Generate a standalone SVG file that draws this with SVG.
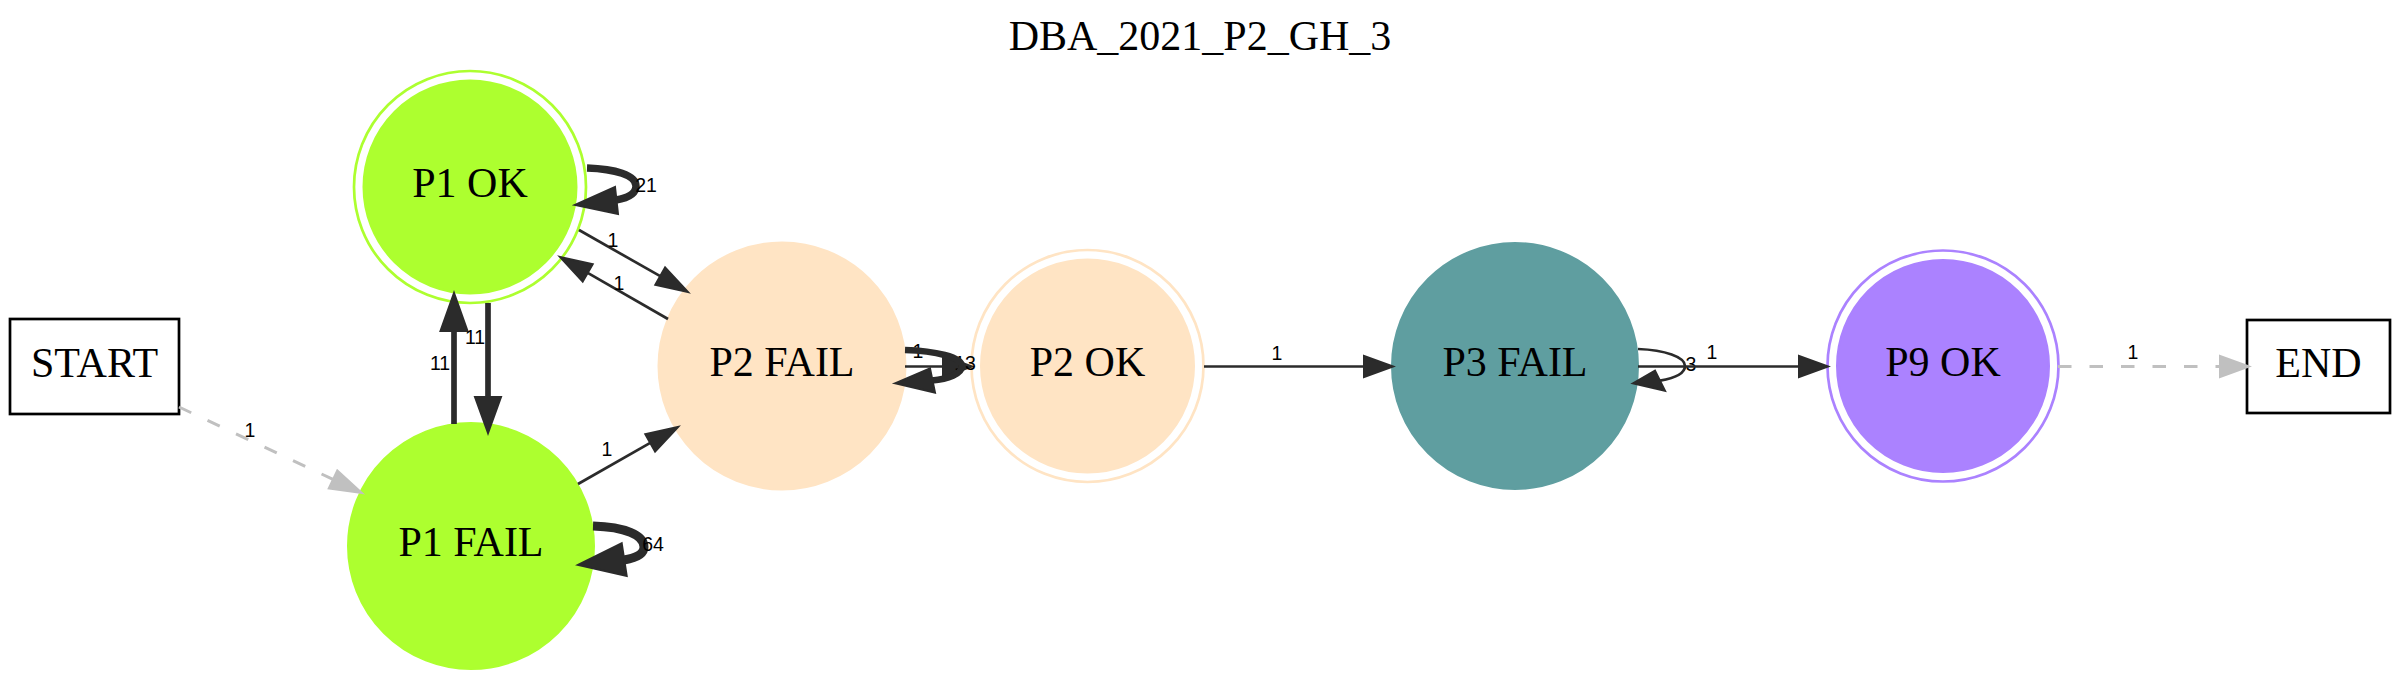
<svg xmlns="http://www.w3.org/2000/svg" width="2400" height="680" viewBox="0 0 2400 680">
<style>
.lbl{font-family:"Liberation Serif","Times New Roman",serif;font-size:42px;fill:#000;text-anchor:middle}
.elbl{font-family:"Liberation Sans",Arial,sans-serif;font-size:19.5px;fill:#000;text-anchor:middle}
.e{fill:none;stroke:#2b2b2b;stroke-width:2.7}
.ah{fill:#2b2b2b;stroke:#2b2b2b;stroke-width:2}
.ed{fill:none;stroke:#c0c0c0;stroke-width:3;stroke-dasharray:13.5,18}
.ahd{fill:#c0c0c0;stroke:#c0c0c0;stroke-width:2}
.box{fill:#fff;stroke:#000;stroke-width:2.7}
</style>
<rect width="2400" height="680" fill="#fff"/>
<text class="lbl" x="1200" y="50">DBA_2021_P2_GH_3</text>

<g id="START"><rect class="box" x="10" y="319" width="169" height="95"/><text class="lbl" x="94.5" y="376.5">START</text></g>
<g id="P1_OK"><circle cx="470" cy="187" r="116" fill="none" stroke="#adff2f" stroke-width="2.7"/><circle cx="470" cy="187" r="106.5" fill="#adff2f" stroke="#adff2f" stroke-width="2"/><text class="lbl" x="470" y="197">P1 OK</text></g>
<g id="P1_FAIL"><circle cx="471" cy="546" r="123" fill="#adff2f" stroke="#adff2f" stroke-width="2"/><text class="lbl" x="471" y="556">P1 FAIL</text></g>
<g id="P2_FAIL"><circle cx="782" cy="366" r="123.5" fill="#ffe4c4" stroke="#ffe4c4" stroke-width="2"/><text class="lbl" x="782" y="376">P2 FAIL</text></g>
<g id="P2_OK"><circle cx="1087.5" cy="366" r="116" fill="none" stroke="#ffe4c4" stroke-width="2.7"/><circle cx="1087.5" cy="366" r="106.5" fill="#ffe4c4" stroke="#ffe4c4" stroke-width="2"/><text class="lbl" x="1087.5" y="376">P2 OK</text></g>
<g id="P3_FAIL"><circle cx="1515" cy="366" r="123" fill="#5f9ea0" stroke="#5f9ea0" stroke-width="2"/><text class="lbl" x="1515" y="376">P3 FAIL</text></g>
<g id="P9_OK"><circle cx="1943" cy="366" r="115.5" fill="none" stroke="#ab82ff" stroke-width="2.7"/><circle cx="1943" cy="366" r="106" fill="#ab82ff" stroke="#ab82ff" stroke-width="2"/><text class="lbl" x="1943" y="376">P9 OK</text></g>
<g id="END"><rect class="box" x="2247" y="320" width="143" height="93"/><text class="lbl" x="2318.5" y="376.5">END</text></g>

<g id="connectors">
  <!-- START -> P1 FAIL -->
  <path class="ed" d="M179,407 L333,479.4"/>
  <polygon class="ahd" points="362,493 328.7,488.5 337.3,470.3"/>
  <text class="elbl" x="250" y="437">1</text>

  <!-- P1 OK -> P2 FAIL -->
  <path class="e" d="M579,230 L660.2,276.2"/>
  <polygon class="ah" points="688,292 655.3,284.9 665.1,267.5"/>
  <text class="elbl" x="613" y="247">1</text>

  <!-- P2 FAIL -> P1 OK -->
  <path class="e" d="M668,319 L587.7,272.9"/>
  <polygon class="ah" points="560,257 592.7,264.2 582.7,281.6"/>
  <text class="elbl" x="619" y="290">1</text>

  <!-- P1 FAIL -> P2 FAIL -->
  <path class="e" d="M578,484 L650.2,442.8"/>
  <polygon class="ah" points="678,427 655.1,451.5 645.3,434.1"/>
  <text class="elbl" x="607" y="456">1</text>

  <!-- P1 FAIL -> P1 OK -->
  <path class="e" style="stroke-width:5.7" d="M454,424 L454,331"/>
  <polygon class="ah" points="454,293 440.5,331 467.5,331"/>
  <text class="elbl" x="440" y="370">11</text>

  <!-- P1 OK -> P1 FAIL -->
  <path class="e" style="stroke-width:5.7" d="M488,303 L488,397"/>
  <polygon class="ah" points="488,433 475,397 501,397"/>
  <text class="elbl" x="475" y="344">11</text>

  <!-- P1 OK self loop -->
  <path class="e" style="stroke-width:7.5" d="M587,168 C615,169 636,175 636,186 C636,194 628,198 616,200"/>
  <polygon class="ah" points="575,205 615,187 618,214"/>
  <text class="elbl" x="646" y="192">21</text>

  <!-- P1 FAIL self loop -->
  <path class="e" style="stroke-width:9" d="M593,526 C625,527 644,535 644,547 C644,554 636,558 624,560"/>
  <polygon class="ah" points="578,565 621.7,543.3 626.7,576"/>
  <text class="elbl" x="653" y="551">64</text>

  <!-- P2 FAIL -> P2 OK -->
  <path class="e" d="M905,366.5 L943,366.5"/>
  <polygon class="ah" points="972,366.5 943,356 943,377"/>
  <text class="elbl" x="918" y="358">1</text>

  <!-- P2 FAIL self loop -->
  <text class="elbl" x="965" y="370">13</text>
  <path class="e" style="stroke-width:6.5" d="M905,350 C935,351 962,357 962,366 C962,374 948,379 932,380.5"/>
  <polygon class="ah" points="895,383.3 930,368.3 935,392.7"/>

  <!-- P2 OK -> P3 FAIL -->
  <path class="e" d="M1204,366.5 L1364,366.5"/>
  <polygon class="ah" points="1393,366.5 1364,356 1364,377"/>
  <text class="elbl" x="1277" y="360">1</text>

  <!-- P3 FAIL self loop -->
  <path class="e" d="M1638,349 C1665,350 1685,357 1685,366 C1685,374 1675,378 1660,380.7"/>
  <polygon class="ah" points="1633,383.3 1655,370.7 1665,390.7"/>
  <text class="elbl" x="1691" y="371">3</text>

  <!-- P3 FAIL -> P9 OK -->
  <path class="e" d="M1638,366.5 L1799,366.5"/>
  <polygon class="ah" points="1828,366.5 1799,356 1799,377"/>
  <text class="elbl" x="1712" y="359">1</text>

  <!-- P9 OK -> END -->
  <path class="ed" d="M2058,366.5 L2220,366.5"/>
  <polygon class="ahd" points="2249,366.5 2220,356 2220,377"/>
  <text class="elbl" x="2133" y="359">1</text>
</g>
</svg>
